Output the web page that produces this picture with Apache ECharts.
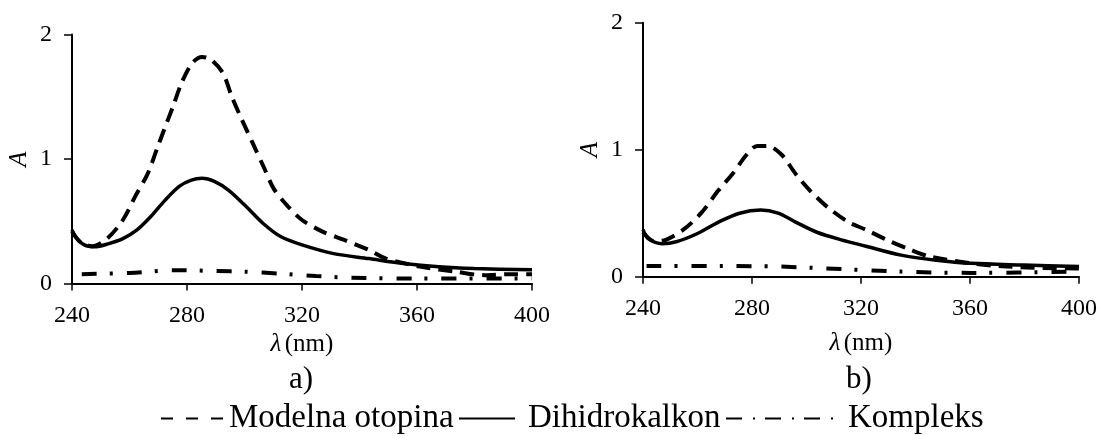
<!DOCTYPE html>
<html>
<head>
<meta charset="utf-8">
<script src="https://cdn.jsdelivr.net/npm/echarts@6/dist/echarts.min.js"></script>
<style>
html,body{margin:0;padding:0;background:#fff;}
#chart{width:1100px;height:436px;}
</style>
</head>
<body>
<div id="chart"></div>
<script>
// ---- data ----
const xTicks = [240, 280, 320, 360, 400];
const yTicks = [0, 1, 2];
const seriesNames = ['Modelna otopina', 'Dihidrokalkon', 'Kompleks'];
const panelLabels = ['a)', 'b)'];

// panel a)
const aModelna = [[240,0.42],[243,0.33],[247,0.30],[252.2,0.36],[257.7,0.51],[262,0.70],[266.3,0.88],[269.6,1.085],[272,1.233],[275.1,1.42],[278.1,1.61],[281.8,1.77],[285.2,1.82],[288.2,1.80],[292.5,1.69],[295.6,1.50],[299.2,1.31],[302.9,1.125],[306.6,0.94],[310.2,0.76],[315.1,0.62],[320,0.51],[327.3,0.415],[334.7,0.35],[343.2,0.27],[349.3,0.20],[361.5,0.134],[373.7,0.094],[383.5,0.067],[392,0.075],[400,0.075]];
const aDihidro = [[240,0.43],[241.2,0.375],[244.3,0.31],[247.9,0.295],[252.8,0.32],[257.7,0.36],[262.6,0.43],[267.5,0.54],[272.4,0.67],[277.3,0.78],[281.5,0.83],[285.2,0.845],[289.5,0.82],[294.4,0.75],[300.5,0.62],[306.6,0.48],[312.7,0.375],[320,0.31],[331,0.24],[343.2,0.20],[355.4,0.16],[367.6,0.134],[379.9,0.12],[400,0.11]];
const aKompleks = [[243.4,0.075],[260,0.085],[276,0.107],[290,0.10],[300.5,0.094],[312,0.08],[324.9,0.06],[337.1,0.046],[361.5,0.04],[400,0.04]];

// panel b)
const bModelna = [[240,0.35],[244,0.28],[248.4,0.29],[254.8,0.37],[261.3,0.50],[267.7,0.68],[272.9,0.81],[278,0.96],[281.9,1.03],[285.7,1.03],[290.9,0.96],[296,0.81],[301.2,0.68],[307.6,0.55],[315.4,0.43],[321.8,0.37],[329.5,0.29],[337.3,0.22],[345,0.16],[360.5,0.105],[373.3,0.08],[399,0.065],[400,0.065]];
const bDihidro = [[240,0.37],[241.9,0.30],[247.1,0.26],[252.2,0.275],[260,0.34],[267.7,0.43],[275.4,0.50],[283.2,0.525],[289.6,0.50],[296,0.43],[303.8,0.35],[312.8,0.29],[321.8,0.24],[334.7,0.17],[347.6,0.13],[360.5,0.105],[379.8,0.092],[400,0.08]];
const bKompleks = [[241.3,0.084],[270.3,0.084],[289.6,0.08],[306.3,0.066],[334.7,0.04],[360.5,0.03],[400,0.04]];

// ---- chart ----
const FONT = "'Liberation Serif','Times New Roman',serif";
const chart = echarts.init(document.getElementById('chart'), null, {renderer: 'canvas'});

function xAxisCfg(gridIndex, nameGap) {
  return {
    type: 'value', gridIndex, min: xTicks[0], max: xTicks[xTicks.length - 1],
    interval: xTicks[1] - xTicks[0],
    name: '{i|λ} {n|(nm)}', nameLocation: 'middle', nameGap,
    nameTextStyle: { rich: { i: {fontFamily: FONT, fontStyle: 'italic', fontSize: 25, color: '#000'}, n: {fontFamily: FONT, fontSize: 25, color: '#000'} } },
    axisLine: { show: true, onZero: false, lineStyle: {color: '#000', width: 2} },
    axisTick: { show: true, inside: false, length: 7, lineStyle: {color: '#000', width: 1.5} },
    axisLabel: { margin: 20, fontFamily: FONT, fontSize: 24, color: '#000' },
    splitLine: { show: false }
  };
}
function yAxisCfg(gridIndex) {
  return {
    type: 'value', gridIndex, min: yTicks[0], max: yTicks[yTicks.length - 1],
    interval: yTicks[1] - yTicks[0],
    name: 'A', nameLocation: 'middle', nameGap: 40, nameRotate: 90,
    nameTextStyle: { fontFamily: FONT, fontStyle: 'italic', fontSize: 25, color: '#000' },
    axisLine: { show: true, onZero: false, lineStyle: {color: '#000', width: 2} },
    axisTick: { show: true, inside: false, length: 8, lineStyle: {color: '#000', width: 1.5} },
    axisLabel: { margin: 20, fontFamily: FONT, fontSize: 24, color: '#000' },
    splitLine: { show: false }
  };
}

const styles = [
  { width: 4, type: [14, 8] },
  { width: 3.5, type: 'solid' },
  { width: 4, type: [15, 13, 3, 14] }
];
function mk(name, data, idx, panel) {
  return {
    name, type: 'line', xAxisIndex: panel, yAxisIndex: panel, data,
    smooth: 0.3, symbol: 'none', silent: true, animation: false,
    lineStyle: Object.assign({ color: '#000', cap: 'butt' }, styles[idx]),
    itemStyle: { color: '#000' },
    z: idx === 1 ? 3 : 2
  };
}

const legendCommon = {
  orient: 'horizontal', padding: 0, itemHeight: 14, top: 402,
  selectedMode: false,
  itemStyle: { color: 'rgba(0,0,0,0)', borderColor: 'rgba(0,0,0,0)', borderWidth: 0, opacity: 0 },
  textStyle: { fontFamily: FONT, fontSize: 33, color: '#000' }
};

chart.setOption({
  animation: false,
  backgroundColor: '#fff',
  grid: [
    { left: 72, top: 34.5, width: 460, height: 249, containLabel: false },
    { left: 643, top: 22.7, width: 436, height: 254, containLabel: false }
  ],
  xAxis: [xAxisCfg(0, 48), xAxisCfg(1, 54)],
  yAxis: [yAxisCfg(0), yAxisCfg(1)],
  title: [
    { text: panelLabels[0], left: 301, top: 364, textAlign: 'center', padding: 0,
      textStyle: { fontFamily: FONT, fontSize: 31, fontWeight: 'normal', color: '#000' } },
    { text: panelLabels[1], left: 859, top: 364, textAlign: 'center', padding: 0,
      textStyle: { fontFamily: FONT, fontSize: 31, fontWeight: 'normal', color: '#000' } }
  ],
  legend: [
    Object.assign({}, legendCommon, { left: 160, itemWidth: 63, data: [seriesNames[0]],
      lineStyle: { width: 2, type: [12, 13], color: '#000' } }),
    Object.assign({}, legendCommon, { left: 458, itemWidth: 56, data: [seriesNames[1]],
      lineStyle: { width: 2, type: 'solid', color: '#000' },
      textStyle: Object.assign({}, legendCommon.textStyle, { padding: [0, 0, 0, 8] }) }),
    Object.assign({}, legendCommon, { left: 725, itemWidth: 117, data: [seriesNames[2]],
      lineStyle: { width: 2, type: [16, 11, 2, 10], color: '#000' } })
  ],
  series: [
    mk(seriesNames[0], aModelna, 0, 0),
    mk(seriesNames[1], aDihidro, 1, 0),
    mk(seriesNames[2], aKompleks, 2, 0),
    mk(seriesNames[0], bModelna, 0, 1),
    mk(seriesNames[1], bDihidro, 1, 1),
    mk(seriesNames[2], bKompleks, 2, 1)
  ]
});
</script>
</body>
</html>
